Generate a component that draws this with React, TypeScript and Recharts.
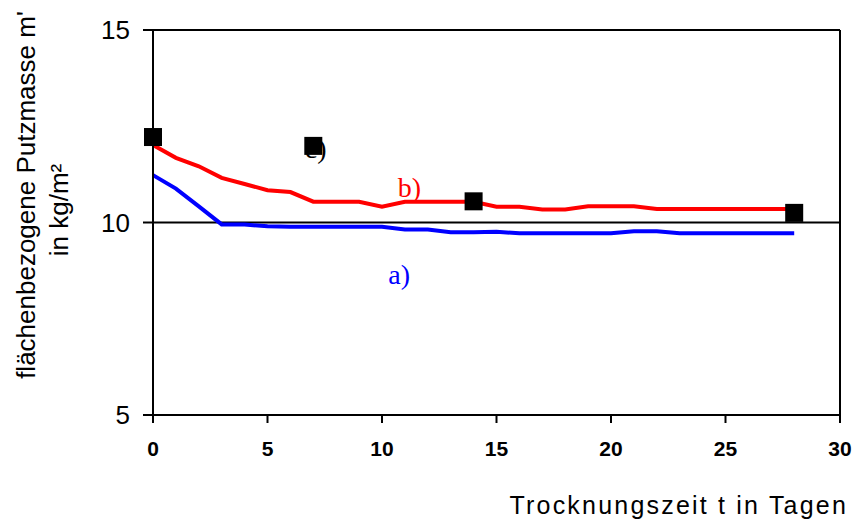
import {
  ComposedChart,
  Line,
  Scatter,
  XAxis,
  YAxis,
  ReferenceLine,
} from 'recharts';

// drying days 0..28
const days = [
  0, 1, 2, 3, 4, 5, 6, 7, 8, 9, 10, 11, 12, 13, 14, 15, 16, 17, 18, 19, 20, 21, 22, 23, 24, 25, 26, 27, 28,
];
// curve a) blue
const seriesA = [
  11.23, 10.88, 10.42, 9.95, 9.95, 9.9, 9.89, 9.89, 9.89, 9.89, 9.89, 9.82, 9.82, 9.75, 9.75, 9.76, 9.72, 9.72,
  9.72, 9.72, 9.72, 9.77, 9.77, 9.72, 9.72, 9.72, 9.72, 9.72, 9.72,
];
// curve b) red
const seriesB = [
  12.01, 11.68, 11.46, 11.16, 11.0, 10.84, 10.79, 10.54, 10.54, 10.54, 10.41, 10.54, 10.54, 10.54, 10.54, 10.41,
  10.41, 10.34, 10.34, 10.42, 10.42, 10.42, 10.35, 10.35, 10.35, 10.35, 10.35, 10.35, 10.35,
];
// measured points c)
const measuredDays = [0, 7, 14, 28];
const measuredValues = [12.22, 11.99, 10.55, 10.25];

// curve labels
const noteDays = [7.1, 11.2, 10.75];
const noteValues = [11.93, 10.92, 8.64];
const noteTexts = ['c)', 'b)', 'a)'];
const noteColors = ['#000000', '#ff0000', '#0000ff'];

const xTicks = [0, 5, 10, 15, 20, 25, 30];
const yTicks = [5, 10, 15];

const lineData = days.map((d, i) => ({ t: d, a: seriesA[i], b: seriesB[i] }));
const measured = measuredDays.map((d, i) => ({ t: d, m: measuredValues[i] }));
const notes = noteDays.map((d, i) => ({ t: d, m: noteValues[i], text: noteTexts[i], color: noteColors[i] }));

const Square = (props: any) => {
  const { cx, cy } = props;
  return <rect x={cx - 9} y={cy - 9} width={18} height={18} fill="#000" />;
};

const NoteText = (props: any) => {
  const { cx, cy, payload } = props;
  return (
    <text
      x={cx}
      y={cy}
      textAnchor="middle"
      dominantBaseline="central"
      fill={payload.color}
      fontSize={28}
      fontFamily="'Liberation Serif', 'Times New Roman', serif"
    >
      {payload.text}
    </text>
  );
};

const sans = "'Liberation Sans', Arial, sans-serif";

export default function App() {
  return (
    <div style={{ position: 'absolute', left: 0, top: 0 }}>
      <ComposedChart width={856} height={523} data={lineData} margin={{ top: 30, right: 16, bottom: 78, left: 93 }}>
        <XAxis
          dataKey="t"
          type="number"
          domain={[0, 30]}
          ticks={xTicks}
          stroke="#000"
          strokeWidth={2}
          tickSize={8}
          tickMargin={18}
          height={30}
          tick={{ fill: '#000', fontSize: 21, fontWeight: 'bold', fontFamily: sans }}
          label={{
            content: () => (
              <text x={848} y={514} textAnchor="end" fontSize={25} letterSpacing={2.2} fontFamily={sans} fill="#000">
                Trocknungszeit t in Tagen
              </text>
            ),
          }}
        />
        <YAxis
          type="number"
          domain={[5, 15]}
          ticks={yTicks}
          stroke="#000"
          strokeWidth={2}
          tickSize={10}
          tickMargin={13}
          width={60}
          tick={{ fill: '#000', fontSize: 26, fontFamily: sans }}
          label={{
            content: () => (
              <g fontSize={26} fontFamily={sans} fill="#000">
                <text x={35} y={195} textAnchor="middle" transform="rotate(-90, 35, 195)">
                  flächenbezogene Putzmasse m'
                </text>
                <text x={68} y={210} textAnchor="middle" transform="rotate(-90, 68, 210)">
                  in kg/m²
                </text>
              </g>
            ),
          }}
        />
        <ReferenceLine y={15} stroke="#000" strokeWidth={2} />
        <ReferenceLine x={30} stroke="#000" strokeWidth={2} />
        <ReferenceLine y={10} stroke="#000" strokeWidth={2} />
        <Line dataKey="a" type="linear" stroke="#0000ff" strokeWidth={4} dot={false} isAnimationActive={false} />
        <Line dataKey="b" type="linear" stroke="#ff0000" strokeWidth={4} dot={false} isAnimationActive={false} />
        <Scatter data={notes} dataKey="m" shape={NoteText} isAnimationActive={false} />
        <Scatter data={measured} dataKey="m" shape={Square} isAnimationActive={false} />
      </ComposedChart>
    </div>
  );
}
